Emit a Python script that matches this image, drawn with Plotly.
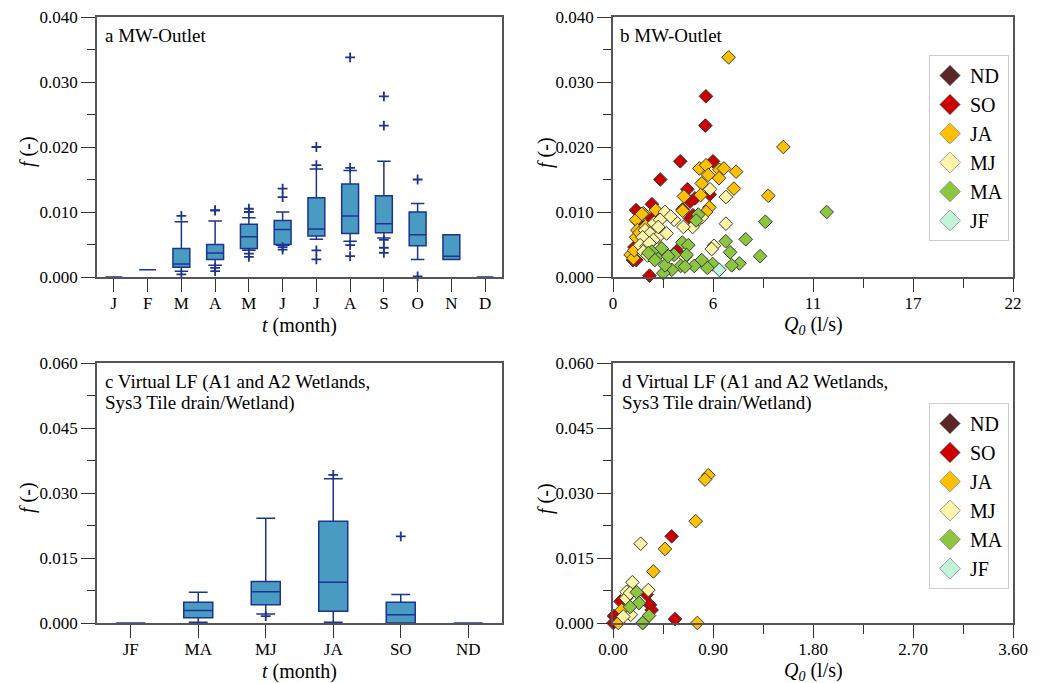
import plotly.graph_objects as go

# ---------------- data ----------------
months = ["J", "F", "M", "A", "M", "J", "J", "A", "S", "O", "N", "D"]
a_q1 = [0, 0.0011, 0.0015, 0.0027, 0.0044, 0.0050, 0.0063, 0.0067, 0.0068, 0.0048, 0.0027, 0]
a_med = [0, 0.0011, 0.0020, 0.0037, 0.0062, 0.0073, 0.0074, 0.0094, 0.0082, 0.0065, 0.0032, 0]
a_q3 = [0, 0.0011, 0.0044, 0.0050, 0.0081, 0.0087, 0.0122, 0.0143, 0.0125, 0.0100, 0.0065, 0]
a_lo = [0, 0.0011, 0.0009, 0.0018, 0.0041, 0.0049, 0.0058, 0.0055, 0.0060, 0.0027, 0.0027, 0]
a_hi = [0, 0.0011, 0.0085, 0.0086, 0.0091, 0.0100, 0.0166, 0.0164, 0.0178, 0.0113, 0.0065, 0]
a_out_m = [2, 2, 3, 3, 3, 3, 4, 4, 4, 4, 5, 5, 5, 5, 6, 6, 6, 6, 7, 7, 7, 7, 8, 8, 8, 8, 8, 9, 9]
a_out_f = [0.0094, 0.0004, 0.0102, 0.0103, 0.0014, 0.0009, 0.0105, 0.0100, 0.0036, 0.0031,
           0.0136, 0.0123, 0.0046, 0.0042, 0.0200, 0.0172, 0.0041, 0.0027,
           0.0338, 0.0168, 0.0049, 0.0032, 0.0278, 0.0233, 0.0057, 0.0045, 0.0037, 0.0150, 0.0001]

pairs = ["JF", "MA", "MJ", "JA", "SO", "ND"]
c_q1 = [0, 0.0012, 0.0042, 0.0027, 0.0, 0]
c_med = [0, 0.0029, 0.0072, 0.0094, 0.0019, 0]
c_q3 = [0, 0.0048, 0.0096, 0.0235, 0.0048, 0]
c_lo = [0, 0.0002, 0.0021, 0.0002, 0.0, 0]
c_hi = [0, 0.0071, 0.0242, 0.0333, 0.0066, 0]
c_out_m = [2, 3, 4]
c_out_f = [0.0016, 0.0342, 0.0200]

# panel b scatter (Q0 l/s, f)
b_JA_q = [6.36, 9.37, 8.54, 6.65, 6.77, 4.75, 5.12, 5.85, 6.10, 5.24, 5.83, 4.88, 3.90, 3.83,
          4.82, 5.30, 5.12, 1.67, 2.35, 1.27, 1.27, 0.97, 1.12, 1.34, 1.87, 2.60, 1.59, 1.17, 1.45, 1.80]
b_JA_f = [0.0338, 0.0200, 0.0125, 0.0136, 0.0162, 0.0167, 0.0172, 0.0165, 0.0167, 0.0157, 0.0152,
          0.0144, 0.0124, 0.0102, 0.0126, 0.0107, 0.0100, 0.0098, 0.0103, 0.0088, 0.0061, 0.0034,
          0.0029, 0.0072, 0.0067, 0.0090, 0.0097, 0.0041, 0.0068, 0.0078]
b_SO_q = [5.11, 5.08, 3.70, 5.50, 2.60, 4.09, 4.24, 4.51, 3.83, 2.14, 1.27, 1.36, 2.01, 3.50,
          1.10, 4.24, 1.18, 5.32, 4.40, 2.15, 1.60, 1.28]
b_SO_f = [0.0278, 0.0233, 0.0178, 0.0178, 0.0150, 0.0135, 0.0116, 0.0121, 0.0104, 0.0112, 0.0103,
          0.0085, 0.0002, 0.0040, 0.0026, 0.0090, 0.0046, 0.0127, 0.0095, 0.0090, 0.0075, 0.0026]
b_MJ_q = [6.21, 6.21, 5.55, 5.43, 5.34, 4.38, 3.87, 3.36, 2.86, 3.17, 2.26, 2.59, 1.76, 2.04,
          2.49, 2.95, 1.63, 1.49, 1.85, 2.22, 2.49, 1.67, 4.75, 4.88, 3.96, 2.68, 2.00, 1.90]
b_MJ_f = [0.0123, 0.0082, 0.0048, 0.0043, 0.0135, 0.0077, 0.0077, 0.0088, 0.0100, 0.0093, 0.0083,
          0.0088, 0.0072, 0.0067, 0.0062, 0.0067, 0.0061, 0.0049, 0.0047, 0.0057, 0.0077, 0.0039,
          0.0089, 0.0092, 0.0031, 0.0039, 0.0052, 0.0033]
b_MA_q = [11.75, 8.38, 7.30, 8.09, 6.95, 6.53, 6.44, 6.20, 5.48, 5.19, 4.88, 4.47, 4.69, 4.57,
          3.81, 4.14, 4.05, 3.72, 3.96, 3.36, 3.23, 2.77, 2.86, 2.68, 2.37, 2.13, 3.04, 2.30, 1.95]
b_MA_f = [0.0100, 0.0085, 0.0058, 0.0032, 0.0021, 0.0018, 0.0038, 0.0055, 0.0020, 0.0014, 0.0026,
          0.0017, 0.0096, 0.0087, 0.0053, 0.0049, 0.0034, 0.0017, 0.0016, 0.0034, 0.0011, 0.0006,
          0.0018, 0.0044, 0.0031, 0.0039, 0.0032, 0.0026, 0.0037]
b_JF_q = [5.85]
b_JF_f = [0.0011]

# panel d scatter
d_JA_q = [0.858, 0.828, 0.744, 0.468, 0.363, 0.759, 0.048, 0.078, 0.267]
d_JA_f = [0.0341, 0.0331, 0.0235, 0.0171, 0.0119, 0.0, 0.0, 0.0030, 0.0]
d_SO_q = [0.528, 0.558, 0.009, 0.003, 0.068, 0.333, 0.348, 0.303]
d_SO_f = [0.0200, 0.0009, 0.0016, 0.0, 0.0050, 0.0042, 0.0030, 0.0066]
d_MJ_q = [0.249, 0.174, 0.318, 0.123, 0.117, 0.159, 0.093, 0.153]
d_MJ_f = [0.0183, 0.0094, 0.0076, 0.0072, 0.0057, 0.0019, 0.0015, 0.0069]
d_MA_q = [0.213, 0.234, 0.153, 0.324, 0.267]
d_MA_f = [0.0071, 0.0046, 0.0037, 0.0017, 0.0]

groups = ["ND", "SO", "JA", "MJ", "MA", "JF"]
colors = {"ND": "#5b2626", "SO": "#cc0000", "JA": "#ffc000", "MJ": "#fff5a8",
          "MA": "#8cc63f", "JF": "#c0f5da"}

# ---------------- figure ----------------
OFF = 8  # page body margin
W, H = 1049 - OFF, 683 - OFF
FONT = "Liberation Serif"
BOX_FILL = "#4a9bc1"
BOX_LINE = "#1c3391"

fig = go.Figure()

def px_x(p):
    return (p - OFF) / W

def px_y(p):
    return 1 - (p - OFF) / H

# panel a boxes
fig.add_trace(go.Box(x=list(range(12)), q1=a_q1, median=a_med, q3=a_q3,
                     lowerfence=a_lo, upperfence=a_hi, width=0.5, whiskerwidth=0.8,
                     fillcolor=BOX_FILL, line=dict(color=BOX_LINE, width=1.5),
                     boxpoints=False, showlegend=False, xaxis="x", yaxis="y"))
fig.add_trace(go.Scatter(x=a_out_m, y=a_out_f, mode="markers", showlegend=False,
                         marker=dict(symbol="cross-thin", size=7, line=dict(color=BOX_LINE, width=1.8)),
                         xaxis="x", yaxis="y", cliponaxis=False))

# panel c boxes
fig.add_trace(go.Box(x=list(range(6)), q1=c_q1, median=c_med, q3=c_q3,
                     lowerfence=c_lo, upperfence=c_hi, width=0.43, whiskerwidth=0.65,
                     fillcolor=BOX_FILL, line=dict(color=BOX_LINE, width=1.5),
                     boxpoints=False, showlegend=False, xaxis="x3", yaxis="y3"))
fig.add_trace(go.Scatter(x=c_out_m, y=c_out_f, mode="markers", showlegend=False,
                         marker=dict(symbol="cross-thin", size=7, line=dict(color=BOX_LINE, width=1.8)),
                         xaxis="x3", yaxis="y3", cliponaxis=False))

b_data = {"SO": (b_SO_q, b_SO_f), "JA": (b_JA_q, b_JA_f), "MJ": (b_MJ_q, b_MJ_f),
          "MA": (b_MA_q, b_MA_f), "JF": (b_JF_q, b_JF_f)}
d_data = {"SO": (d_SO_q, d_SO_f), "JA": (d_JA_q, d_JA_f), "MJ": (d_MJ_q, d_MJ_f),
          "MA": (d_MA_q, d_MA_f)}

for data, xa, ya in [(b_data, "x2", "y2"), (d_data, "x4", "y4")]:
    for g in groups:
        if g in data:
            q, f = data[g]
            fig.add_trace(go.Scatter(x=q, y=f, mode="markers", showlegend=False,
                                     marker=dict(symbol="diamond", size=10.5, color=colors[g],
                                                 line=dict(color="#3a3a3a", width=1)),
                                     xaxis=xa, yaxis=ya, cliponaxis=False))

# legend-only traces
for lg, xa, ya in [("legend", "x2", "y2"), ("legend2", "x4", "y4")]:
    for g in groups:
        fig.add_trace(go.Scatter(x=[None], y=[None], mode="markers", name=g, legend=lg,
                                 marker=dict(symbol="diamond", size=16, color=colors[g],
                                             line=dict(color="#a0a0a0", width=1)),
                                 xaxis=xa, yaxis=ya))

axis_common = dict(showline=True, mirror=True, linecolor="#555555", linewidth=1.5,
                   ticks="outside", tickcolor="#333333", tickwidth=1.2, showgrid=False,
                   zeroline=False, tickfont=dict(family=FONT, size=17, color="black"),
                   automargin=False, ticklabeloverflow="allow")
xcommon = dict(axis_common, ticklabelstandoff=-3)

xa_left = [px_x(97), px_x(502)]
xa_right = [px_x(613), px_x(1013)]
ya_top = [px_y(277), px_y(17)]
ya_bot = [px_y(623), px_y(363)]

fig.update_layout(
    width=W, height=H, margin=dict(l=0, r=0, t=0, b=0),
    paper_bgcolor="white", plot_bgcolor="white",
    font=dict(family=FONT, size=17, color="black"),
    xaxis=dict(domain=xa_left, anchor="y", range=[-0.5, 11.5], tickmode="array",
               tickvals=list(range(12)), ticktext=months, ticklen=13, **xcommon),
    yaxis=dict(domain=ya_top, anchor="x", range=[0, 0.04], dtick=0.01, tickformat=".3f",
               ticklen=14, minor=dict(dtick=0.005, ticklen=8, ticks="outside", tickcolor="#333333"),
               **axis_common),
    xaxis2=dict(domain=xa_right, anchor="y2", range=[0, 22], tickmode="array",
                tickvals=[0, 5.5, 11, 16.5, 22], ticktext=["0", "6", "11", "17", "22"], ticklen=13,
                minor=dict(tickmode="array", tickvals=[2.75, 8.25, 13.75, 19.25], ticklen=9,
                           ticks="outside", tickcolor="#333333"),
                **xcommon),
    yaxis2=dict(domain=ya_top, anchor="x2", range=[0, 0.04], dtick=0.01, tickformat=".3f",
                ticklen=14, minor=dict(dtick=0.005, ticklen=8, ticks="outside", tickcolor="#333333"),
                **axis_common),
    xaxis3=dict(domain=xa_left, anchor="y3", range=[-0.5, 5.5], tickmode="array",
                tickvals=list(range(6)), ticktext=pairs, ticklen=13, **xcommon),
    yaxis3=dict(domain=ya_bot, anchor="x3", range=[0, 0.06], dtick=0.015, tickformat=".3f",
                ticklen=14, minor=dict(dtick=0.0075, ticklen=8, ticks="outside", tickcolor="#333333"),
                **axis_common),
    xaxis4=dict(domain=xa_right, anchor="y4", range=[0, 3.6], dtick=0.9, tickformat=".2f",
                ticklen=13, minor=dict(dtick=0.45, ticklen=9, ticks="outside", tickcolor="#333333"),
                **xcommon),
    yaxis4=dict(domain=ya_bot, anchor="x4", range=[0, 0.06], dtick=0.015, tickformat=".3f",
                ticklen=14, minor=dict(dtick=0.0075, ticklen=8, ticks="outside", tickcolor="#333333"),
                **axis_common),
    legend=dict(x=px_x(929), y=px_y(55), xanchor="left", yanchor="top",
                bordercolor="#cccccc", borderwidth=1, bgcolor="white",
                font=dict(family=FONT, size=20, color="black")),
    legend2=dict(x=px_x(929), y=px_y(403), xanchor="left", yanchor="top",
                 bordercolor="#cccccc", borderwidth=1, bgcolor="white",
                 font=dict(family=FONT, size=20, color="black")),
)

ann = []
def label(text, x, y, size=19, xanchor="left", angle=0):
    ann.append(dict(text=text, x=px_x(x), y=px_y(y), xref="paper", yref="paper",
                    xanchor=xanchor, yanchor="middle", showarrow=False, textangle=angle,
                    font=dict(family=FONT, size=size, color="black")))

label("a MW-Outlet", 103, 35)
label("b MW-Outlet", 618, 35)
label("c Virtual LF (A1 and A2 Wetlands,", 103, 382)
label("Sys3 Tile drain/Wetland)", 103, 403)
label("d Virtual LF (A1 and A2 Wetlands,", 620, 382)
label("Sys3 Tile drain/Wetland)", 620, 403)

label("<i>t</i> (month)", 299, 325, size=20, xanchor="center")
label("<i>t</i> (month)", 299, 671, size=20, xanchor="center")
label("<i>Q<sub>0</sub></i> (l/s)", 813, 325, size=20, xanchor="center")
label("<i>Q<sub>0</sub></i> (l/s)", 813, 671, size=20, xanchor="center")

label("<i>f</i> (-)", 27, 152, size=20, xanchor="center", angle=-90)
label("<i>f</i> (-)", 545, 152, size=20, xanchor="center", angle=-90)
label("<i>f</i> (-)", 27, 498, size=20, xanchor="center", angle=-90)
label("<i>f</i> (-)", 545, 498, size=20, xanchor="center", angle=-90)

fig.update_layout(annotations=ann)

fig.write_html("out.html")
